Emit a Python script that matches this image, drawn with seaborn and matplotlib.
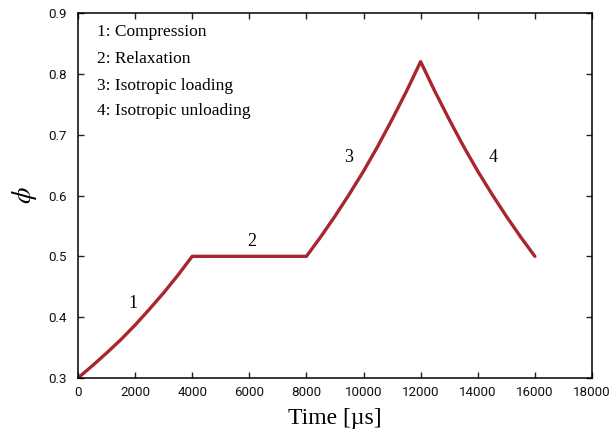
import matplotlib
matplotlib.use("Agg")
import matplotlib.pyplot as plt
import seaborn as sns
import pandas as pd

# Data
time_us = [0, 500, 1000, 1500, 2000, 2500, 3000, 3500, 4000,
           8000, 8500, 9000, 9500, 10000, 10500, 11000, 11500, 12000,
           12500, 13000, 13500, 14000, 14500, 15000, 15500, 16000]
phi = [0.300, 0.320, 0.341, 0.363, 0.387, 0.413, 0.440, 0.469, 0.500,
       0.500, 0.532, 0.566, 0.602, 0.640, 0.681, 0.725, 0.771, 0.820,
       0.771, 0.725, 0.681, 0.640, 0.602, 0.566, 0.532, 0.500]

legend_lines = ["1: Compression", "2: Relaxation", "3: Isotropic loading", "4: Isotropic unloading"]
stage_labels = ["1", "2", "3", "4"]
stage_x = [1930, 6090, 9490, 14530]
stage_y = [0.423, 0.524, 0.662, 0.663]

x_ticks = [0, 2000, 4000, 6000, 8000, 10000, 12000, 14000, 16000, 18000]
y_ticks = [0.3, 0.4, 0.5, 0.6, 0.7, 0.8, 0.9]

sns.set_style("ticks")
plt.rcParams["font.family"] = ["Liberation Serif", "DejaVu Serif"]
plt.rcParams["mathtext.fontset"] = "stix"
plt.rcParams["text.color"] = "black"
plt.rcParams["axes.labelcolor"] = "black"
plt.rcParams["xtick.color"] = "black"
plt.rcParams["ytick.color"] = "black"

df = pd.DataFrame({"Time": time_us, "phi": phi})

fig = plt.figure(figsize=(6.13, 4.36), dpi=100)
ax = fig.add_axes([0.1272, 0.133, 0.8385, 0.8372])

sns.lineplot(data=df, x="Time", y="phi", ax=ax, color="#a8262e",
             linewidth=2.4, estimator=None, sort=False)

ax.set_xlim(0, 18000)
ax.set_ylim(0.3, 0.9)
ax.set_xticks(x_ticks)
ax.set_yticks(y_ticks)
ax.set_xticklabels([str(v) for v in x_ticks], family="Roboto", fontsize=9.6)
ax.set_yticklabels([f"{v:.1f}" for v in y_ticks], family="Roboto", fontsize=9.6)

ax.tick_params(direction="in", length=4, width=1, top=True, right=True,
               color="#222222", labelcolor="#111111")
ax.tick_params(axis="x", pad=6)
ax.tick_params(axis="y", pad=8)
for s in ax.spines.values():
    s.set_linewidth(1.1)
    s.set_color("black")

ax.set_xlabel("Time [µs]", fontsize=17, labelpad=6)
ax.set_ylabel(r"$\phi$", fontsize=19, labelpad=7)

legend_y = [0.869, 0.824, 0.780, 0.739]
for txt, yy in zip(legend_lines, legend_y):
    ax.text(665, yy, txt, fontsize=12.5, va="center", ha="left")

for lab, xx, yy in zip(stage_labels, stage_x, stage_y):
    ax.text(xx, yy, lab, fontsize=13, va="center", ha="center")

fig.savefig("out.png", dpi=100)
